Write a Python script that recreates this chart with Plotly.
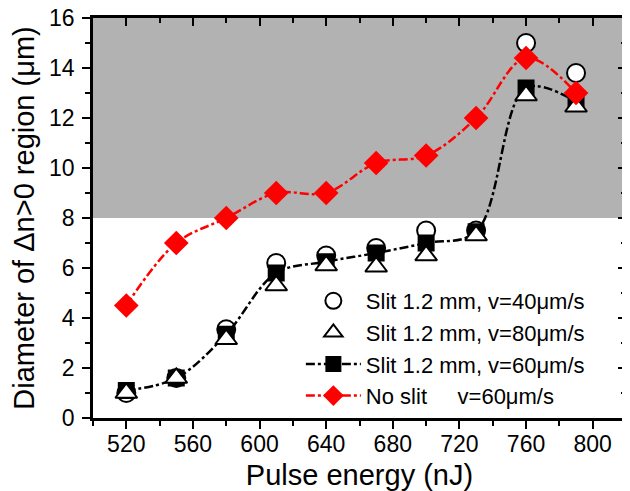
import plotly.graph_objects as go

energy = [520, 550, 580, 610, 640, 670, 700, 730, 760, 790]
slit_v40 = [1.0, 1.6, 3.55, 6.2, 6.5, 6.8, 7.5, 7.5, 15.0, 13.8]
slit_v80 = [1.0, 1.6, 3.15, 5.3, 6.1, 6.05, 6.5, 7.3, 12.9, 12.45]
slit_v60 = [1.1, 1.6, 3.35, 5.8, 6.25, 6.6, 7.0, 7.45, 13.2, 12.65]
no_slit_v60 = [4.5, 7.0, 8.0, 9.0, 9.0, 10.2, 10.5, 12.0, 14.4, 13.0]
shade_low, shade_high = 8, 16

FONT = "Liberation Sans, Arial, sans-serif"
NB = "\u00a0"

fig = go.Figure()
fig.add_trace(go.Scatter(
    x=energy, y=slit_v40, mode="markers", name="Slit 1.2 mm, v=40μm/s",
    marker=dict(symbol="circle", size=18, color="white", line=dict(color="black", width=2)),
    legendrank=1))
fig.add_trace(go.Scatter(
    x=energy, y=slit_v60, mode="lines+markers", name="Slit 1.2 mm, v=60μm/s",
    line=dict(color="black", width=2.5, dash="dashdot", shape="spline", smoothing=1.0),
    marker=dict(symbol="square", size=17, color="black"),
    legendrank=3))
fig.add_trace(go.Scatter(
    x=energy, y=slit_v80, mode="markers", name="Slit 1.2 mm, v=80μm/s",
    marker=dict(symbol="triangle-up", size=19, color="white", line=dict(color="black", width=2)),
    legendrank=2))
fig.add_trace(go.Scatter(
    x=energy, y=no_slit_v60, mode="lines+markers", name="No slit" + NB * 5 + "v=60μm/s",
    line=dict(color="red", width=2.5, dash="dashdot", shape="spline", smoothing=1.0),
    marker=dict(symbol="diamond", size=19, color="red"),
    legendrank=4))
fig.add_trace(go.Scatter(x=[], y=[], xaxis="x2", yaxis="y2", showlegend=False, hoverinfo="skip"))

fig.add_shape(type="rect", xref="x domain", x0=0, x1=1, yref="y", y0=shade_low, y1=shade_high,
              fillcolor="#b2b2b2", line=dict(width=0), layer="below")

axis_common = dict(showgrid=False, zeroline=False, showline=True, linecolor="black", linewidth=2.5,
                   tickcolor="black", tickwidth=2, automargin=False, ticklabeloverflow="allow",
                   tickfont=dict(size=23, color="black", family=FONT))
mirror_common = dict(showticklabels=False, showgrid=False, zeroline=False, tickcolor="black",
                     tickwidth=2, ticks="inside", ticklen=8, automargin=False)

fig.update_layout(
    width=622, height=483,
    margin=dict(l=85, r=4, t=10, b=73, autoexpand=False),
    plot_bgcolor="white", paper_bgcolor="white",
    font=dict(family=FONT, color="black"),
    xaxis=dict(range=[500, 820], tick0=520, dtick=40, ticks="outside", ticklen=8, mirror=True,
               ticklabelstandoff=-4,
               minor=dict(dtick=20, tick0=520, ticks="outside", ticklen=5, tickwidth=2, tickcolor="black"),
               title=dict(text="Pulse energy (nJ)", font=dict(size=29), standoff=12),
               **axis_common),
    yaxis=dict(range=[0, 16], tick0=0, dtick=2, ticks="outside", ticklen=8, mirror=True,
               ticklabelstandoff=3,
               minor=dict(dtick=1, ticks="outside", ticklen=5, tickwidth=2, tickcolor="black"),
               title=dict(text="Diameter of Δn>0 region (μm)", font=dict(size=29), standoff=6),
               **axis_common),
    xaxis2=dict(overlaying="x", side="top", range=[500, 820], tick0=520, dtick=40,
                minor=dict(dtick=20, tick0=520, ticks="inside", ticklen=5, tickwidth=2,
                           tickcolor="black"), **mirror_common),
    yaxis2=dict(overlaying="y", side="right", range=[0, 16], tick0=0, dtick=2,
                minor=dict(dtick=1, ticks="inside", ticklen=5, tickwidth=2,
                           tickcolor="black"), **mirror_common),
    legend=dict(x=0.39, y=0.345, xanchor="left", yanchor="top", bgcolor="rgba(0,0,0,0)",
                font=dict(size=22, family=FONT), tracegroupgap=0, itemwidth=55),
    showlegend=True,
)

fig.write_html("out.html")
